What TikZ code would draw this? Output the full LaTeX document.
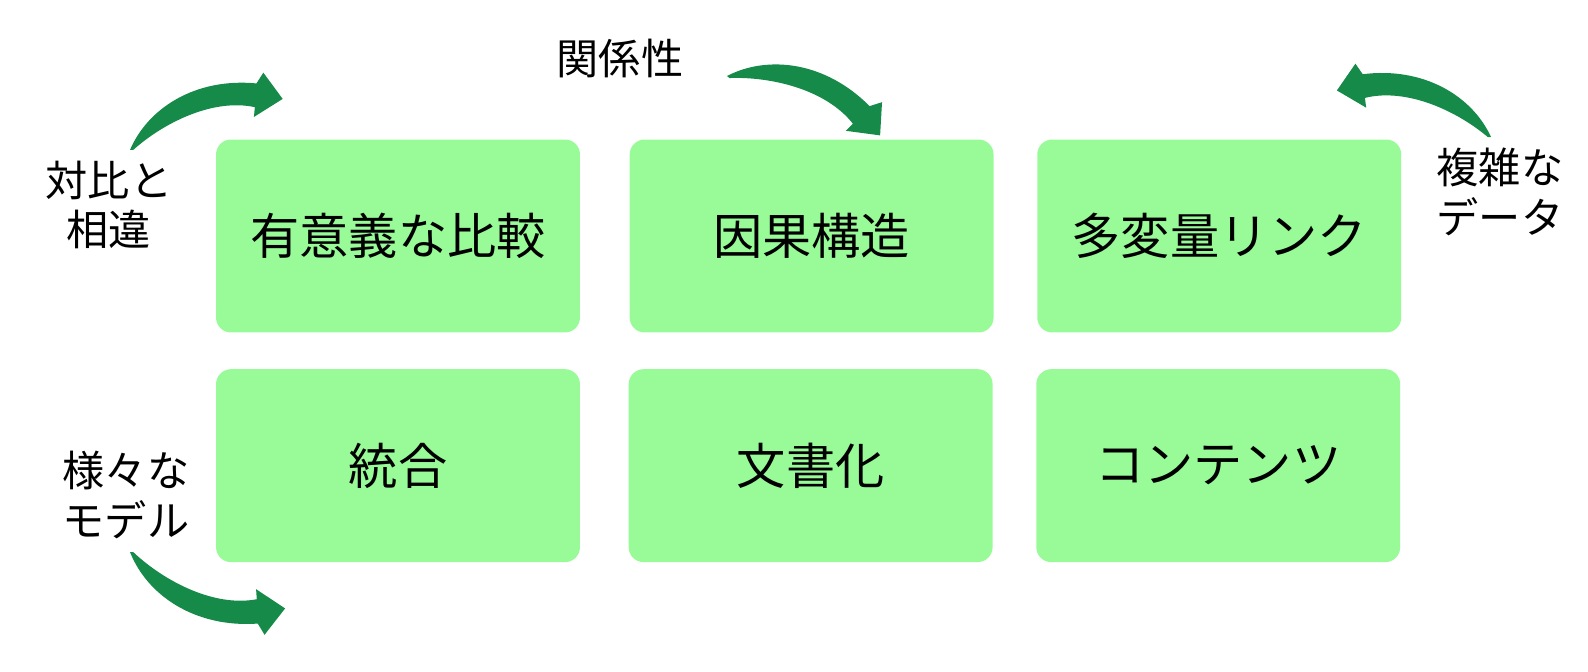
\documentclass[tikz,border=0pt]{standalone}
\usepackage{fontspec}
\setmainfont{Noto Sans CJK JP}
\usetikzlibrary{positioning}
\definecolor{boxgreen}{HTML}{98FB98}
\definecolor{arrowgreen}{HTML}{168A48}

\begin{document}
\begin{tikzpicture}[x=0.02cm, y=0.02cm,
    cell/.style={fill=boxgreen, rounded corners=0.3cm, minimum width=7.28cm,
        minimum height=3.86cm, inner sep=0pt, font=\fontsize{28}{32}\selectfont},
    side/.style={align=center, inner sep=0pt, font=\fontsize{24}{28}\selectfont},
    swoosh/.pic={
        \fill[arrowgreen] (0,0) .. controls (30,34) and (85,48) .. (141,23)
            -- (151,31) -- (161,0) -- (128,-8) -- (132,1)
            .. controls (95,23) and (40,15) .. (3,-1) -- cycle;
    }]
    \useasboundingbox (0,0) rectangle (1588,672);

    % 上の段
    \node[cell] (meaning) at (398,436) {有意義な比較};
    \node[cell, right=0.98cm of meaning] (cause) {因果構造};
    \node[cell, right=0.86cm of cause] (multi) {多変量リンク};

    % 下の段
    \node[cell, below=0.72cm of meaning] (merge) {統合};
    \node[cell, right=0.96cm of merge] (docs) {文書化};
    \node[cell, right=0.86cm of docs] (content) {コンテンツ};

    % 周りのことば
    \node[side] (relation) at (620,613) {関係性};
    \node[side] (contrast) at (109,467) {対比と\\相違};
    \node[side] (complex) at (1500,480) {複雑な\\データ};
    \node[side] (models) at (126,177) {様々な\\モデル};

    % 矢印
    \pic[rotate=18.5] at (130,522) {swoosh};
    \pic[rotate=-21.2, scale=1.02] at (727,596) {swoosh};
    \pic[rotate=163.2, yscale=-1] at (1491,535) {swoosh};
    \pic[rotate=-20, scale=1.025, yscale=-1] at (130,120) {swoosh};
\end{tikzpicture}
\end{document}
